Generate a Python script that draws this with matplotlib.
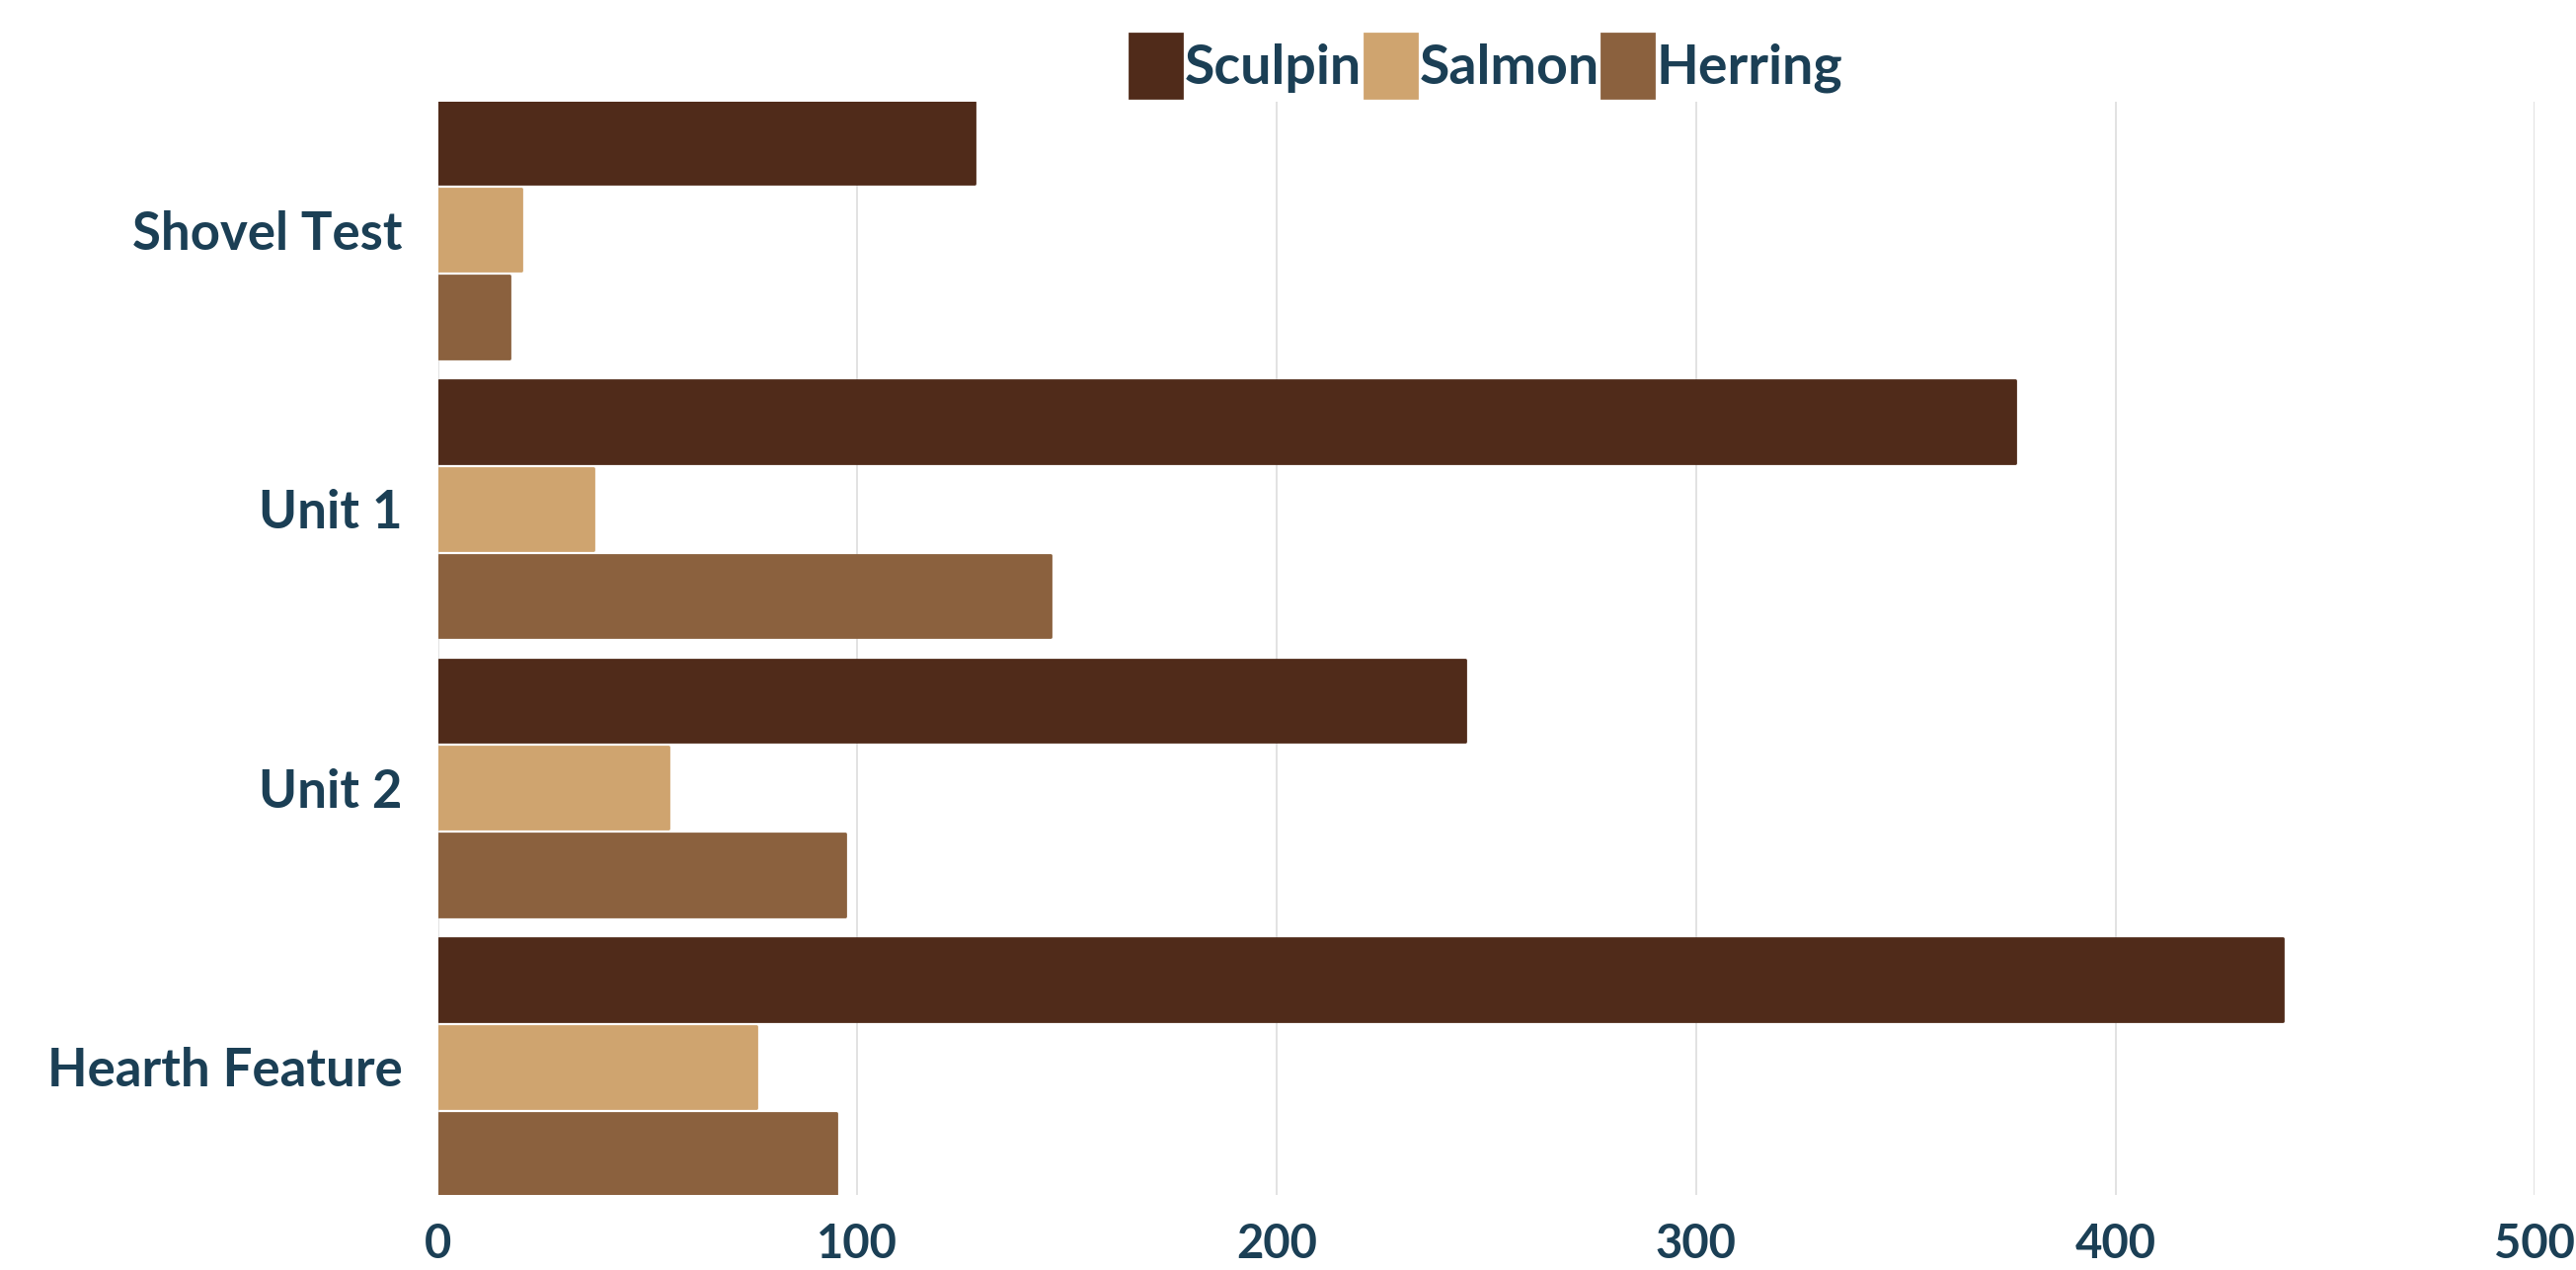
import matplotlib.pyplot as plt
import numpy as np

categories = ["Shovel Test", "Unit 1", "Unit 2", "Hearth Feature"]
series_names = ["Sculpin", "Salmon", "Herring"]
sculpin = [128, 376, 245, 440]
salmon = [20, 37, 55, 76]
herring = [17, 146, 97, 95]
x_ticks = [0, 100, 200, 300, 400, 500]

colors = ["#502B1A", "#CFA46F", "#8B613E"]
text_color = "#1B3F55"

plt.rcParams['font.family'] = ['Lato', 'DejaVu Sans']

fig = plt.figure(figsize=(26.09, 12.86), dpi=100)
ax = fig.add_axes([0.170, 0.059, 0.814, 0.861])

y = np.arange(len(categories))
step = 0.312
height = 0.295
for i, (name, vals) in enumerate(zip(series_names, [sculpin, salmon, herring])):
    ax.barh(y + (i - 1) * step, vals, height=height, color=colors[i],
            edgecolor=colors[i], linewidth=2, joinstyle='round',
            label=name, zorder=3)

ax.set_xlim(0, 500)
ax.set_ylim(len(categories) - 1 + step + height / 2, -step - height / 2)
ax.set_xticks(x_ticks)
ax.set_yticks(y)
ax.set_yticklabels(categories)
ax.grid(axis='x', color='#dddddd', linewidth=1.2, zorder=0)
for s in ax.spines.values():
    s.set_visible(False)
ax.tick_params(length=0)
ax.tick_params(axis='y', pad=26, labelsize=38, labelcolor=text_color)
ax.tick_params(axis='x', pad=20, labelsize=34, labelcolor=text_color)
for lbl in ax.get_xticklabels() + ax.get_yticklabels():
    lbl.set_fontweight('bold')

leg = ax.legend(loc='lower center', bbox_to_anchor=(0.5, 0.983), ncol=3,
                frameon=False, fontsize=40, handlelength=0.95, handleheight=1.45,
                handletextpad=0.05, columnspacing=0.05, borderaxespad=0)
for t in leg.get_texts():
    t.set_color(text_color)
    t.set_fontweight('bold')

fig.savefig("out.png", dpi=100)
